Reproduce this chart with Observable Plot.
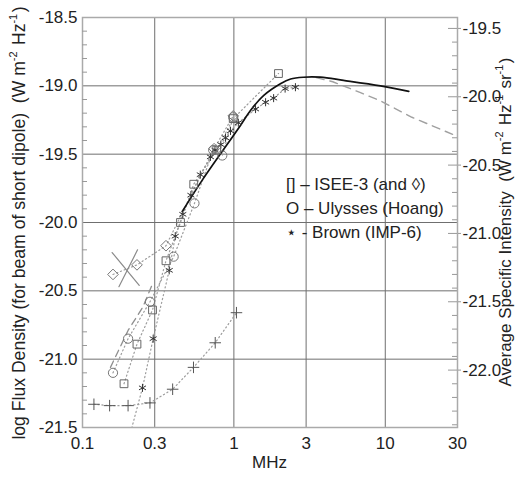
<!DOCTYPE html>
<html>
<head>
<meta charset="utf-8">
<script src="https://cdn.jsdelivr.net/npm/d3@7"></script>
<script src="https://cdn.jsdelivr.net/npm/@observablehq/plot@0.6"></script>
<style>
  html, body { margin: 0; padding: 0; background: #fff; }
  #chart { width: 520px; height: 479px; }
</style>
</head>
<body>
<div id="chart"></div>
<script>
// ---- Data ----
const xTicks = [0.1, 0.3, 1, 3, 10, 30];
const xGrid = [0.3, 1, 3, 10];
const leftMajor = [-21.5, -21.0, -20.5, -20.0, -19.5, -19.0, -18.5];
const rightMajor = [-22.0, -21.5, -21.0, -20.5, -20.0, -19.5];
const rightOffset = 0.92; // right value = left value - 0.92

// ISEE-3 (squares)
const iseeFreq = [0.188, 0.229, 0.290, 0.356, 0.444, 0.543, 0.77, 0.99, 1.97];
const iseeFlux = [-21.18, -20.89, -20.64, -20.28, -20.00, -19.72, -19.47, -19.24, -18.91];
// ISEE-3 diamonds
const diaFreq = [0.159, 0.229, 0.356, 0.74, 0.99];
const diaFlux = [-20.38, -20.31, -20.17, -19.46, -19.22];
// Ulysses (Hoang) circles
const ulyFreq = [0.159, 0.200, 0.279, 0.400, 0.549, 0.73, 0.838, 0.99];
const ulyFlux = [-21.10, -20.85, -20.58, -20.25, -19.86, -19.47, -19.51, -19.23];
// Brown (IMP-6) asterisks
const brownFreq = [0.205, 0.249, 0.293, 0.374, 0.41, 0.46, 0.52, 0.60, 0.70, 0.75, 0.82, 0.88, 0.95, 1.07, 1.39, 1.62, 1.83, 2.18, 2.55];
const brownFlux = [-21.56, -21.21, -20.85, -20.35, -20.10, -19.94, -19.80, -19.65, -19.52, -19.47, -19.43, -19.38, -19.33, -19.27, -19.17, -19.12, -19.09, -19.02, -19.01];
// Plus series
const plusFreq = [0.119, 0.151, 0.200, 0.279, 0.394, 0.541, 0.753, 1.04];
const plusFlux = [-21.33, -21.34, -21.34, -21.32, -21.22, -21.06, -20.88, -20.66];
// Solid model curve
const modelFreq = [0.456, 0.618, 1.105, 1.287, 1.576, 2.03, 2.37, 2.88, 3.73, 5.3, 9.3, 14.3];
const modelFlux = [-19.92, -19.69, -19.29, -19.18, -19.07, -18.985, -18.95, -18.937, -18.937, -18.96, -19.00, -19.04];
// Dashed curve, high-frequency part
const dashHiFreq = [3.5, 4.5, 6.86, 9.3, 15, 30];
const dashHiFlux = [-18.94, -18.97, -19.05, -19.11, -19.23, -19.37];
// Dashed curve, low-frequency part
const dashLoFreq = [0.153, 0.200, 0.250, 0.290];
const dashLoFlux = [-21.06, -20.79, -20.62, -20.45];
// Cross (two strokes)
const crossA = [[0.157, -20.22], [0.237, -20.46]];
const crossB = [[0.231, -20.20], [0.174, -20.47]];

const legendLines = ["[] \u2013 ISEE-3 (and \u25CA)", "O \u2013 Ulysses (Hoang)", "\u22C6 - Brown (IMP-6)"];

// ---- Build tables ----
const zip = (fs, vs) => fs.map((f, i) => ({f, v: vs[i]}));
const isee = zip(iseeFreq, iseeFlux);
const dia = zip(diaFreq, diaFlux);
const uly = zip(ulyFreq, ulyFlux);
const brown = zip(brownFreq, brownFlux);
const plus = zip(plusFreq, plusFlux);
const model = zip(modelFreq, modelFlux);
const dashHi = zip(dashHiFreq, dashHiFlux);
const dashLo = zip(dashLoFreq, dashLoFlux);
const cross = [crossA, crossB].map(s => s.map(([f, v]) => ({f, v})));

const isHalf = v => Math.abs(v * 2 - Math.round(v * 2)) < 1e-6;
const leftMinor = d3.range(-21.4, -18.5, 0.1).map(v => +v.toFixed(2)).filter(v => !isHalf(v));
const rightMinor = d3.range(-22.4, -19.4, 0.1).map(v => +v.toFixed(2)).filter(v => !isHalf(v)).map(r => r + rightOffset);

const FS = 17;
const dotStyle = {x: "f", y: "v", clip: true};
const dotted = {x: "f", y: "v", stroke: "#9c9c9c", strokeWidth: 1.2, strokeDasharray: "1.2,2.8", clip: true};

const chart = Plot.plot({
  width: 520,
  height: 479,
  marginLeft: 82,
  marginRight: 63,
  marginTop: 17,
  marginBottom: 52,
  style: {fontFamily: "'Liberation Sans', Arial, sans-serif", fontSize: FS + "px", color: "#222", background: "#fff"},
  x: {type: "log", domain: [0.1, 30], axis: null},
  y: {domain: [-21.5, -18.5], axis: null},
  marks: [
    Plot.gridY(leftMajor, {stroke: "#6f6f6f", strokeOpacity: 1, strokeWidth: 1}),
    Plot.gridX(xGrid, {stroke: "#6f6f6f", strokeOpacity: 1, strokeWidth: 1}),
    Plot.frame({stroke: "#aaa", strokeWidth: 1.5}),
    Plot.tickY(leftMinor, {y: d => d, insetRight: 370, stroke: "#999"}),
    Plot.tickY(rightMinor, {y: d => d, insetLeft: 370, stroke: "#999"}),
    Plot.tickY(rightMajor.map(r => r + rightOffset), {y: d => d, insetLeft: 366, stroke: "#999"}),
    // dotted connecting lines
    Plot.line(plus, dotted),
    Plot.line(brown, dotted),
    Plot.line(uly, dotted),
    Plot.line(isee, dotted),
    Plot.line(dia, dotted),
    // dashed curves
    Plot.line(dashLo, {x: "f", y: "v", stroke: "#8f8f8f", strokeWidth: 1.3, strokeDasharray: "7,5"}),
    Plot.line(dashHi, {x: "f", y: "v", stroke: "#a0a0a0", strokeWidth: 1.4, strokeDasharray: "8,6"}),
    // cross
    ...cross.map(s => Plot.line(s, {x: "f", y: "v", stroke: "#8a8a8a", strokeWidth: 1.2})),
    // solid model
    Plot.line(model, {x: "f", y: "v", stroke: "#111", strokeWidth: 1.7, curve: "catmull-rom"}),
    // markers
    Plot.dot(plus, {...dotStyle, symbol: "plus", r: 3.8, stroke: "#555", strokeWidth: 1}),
    Plot.dot(brown, {...dotStyle, symbol: "asterisk", r: 3.8, stroke: "#333", strokeWidth: 1}),
    Plot.dot(uly, {...dotStyle, symbol: "circle", r: 4.6, stroke: "#777", strokeWidth: 1, fill: "none"}),
    Plot.dot(isee, {...dotStyle, symbol: "square", r: 4.4, stroke: "#666", strokeWidth: 1, fill: "none"}),
    Plot.dot(dia, {...dotStyle, symbol: "diamond2", r: 4.8, stroke: "#777", strokeWidth: 1, fill: "none"}),
    // axes
    Plot.text(xTicks, {x: d => d, frameAnchor: "bottom", lineAnchor: "top", dy: 9, text: d => String(d), fill: "#222"}),
    Plot.axisY(leftMajor, {anchor: "left", tickSize: 0, tickPadding: 5, tickFormat: d => d.toFixed(1), label: null}),
    Plot.axisY(rightMajor.map(r => r + rightOffset), {anchor: "right", tickSize: 3, tickPadding: 2, tickFormat: d => (d - rightOffset).toFixed(1), label: null, stroke: "#999"})
  ]
});

document.getElementById("chart").appendChild(chart);

// ---- Annotations: axis titles and legend ----
const svg = d3.select(chart);
const font = "'Liberation Sans', Arial, sans-serif";

function rotatedLabel(cx, cy, size, parts) {
  const t = svg.append("text")
    .attr("transform", `translate(${cx},${cy}) rotate(-90)`)
    .attr("text-anchor", "middle")
    .attr("dominant-baseline", "central")
    .attr("font-family", font)
    .attr("font-size", size)
    .attr("fill", "#222");
  parts.forEach(([s, sup]) => {
    if (sup) {
      t.append("tspan").attr("font-size", 11).attr("dy", -6).text(s);
      t.append("tspan").attr("dy", 6).text("\u200A");
    } else {
      t.append("tspan").text(s);
    }
  });
}

rotatedLabel(19, 223, 17.6, [
  ["log Flux Density (for beam of short dipole)\u00A0\u00A0(W m"], ["-2", true], [" Hz"], ["-1", true], [")"]
]);
rotatedLabel(505, 222, FS, [
  ["Average Specific Intensity\u00A0\u00A0(W m"], ["-2", true], [" Hz"], ["-1", true], [" sr"], ["-1", true], [")"]
]);

svg.append("text")
  .attr("x", 269.5).attr("y", 462)
  .attr("text-anchor", "middle").attr("dominant-baseline", "central")
  .attr("font-family", font).attr("font-size", FS).attr("fill", "#222")
  .text("MHz");

legendLines.forEach((s, i) => {
  svg.append("text")
    .attr("x", 286).attr("y", 184 + i * 24)
    .attr("text-anchor", "start")
    .attr("dominant-baseline", "central")
    .attr("font-family", font).attr("font-size", FS).attr("fill", "#222")
    .text(s);
});
</script>
</body>
</html>
